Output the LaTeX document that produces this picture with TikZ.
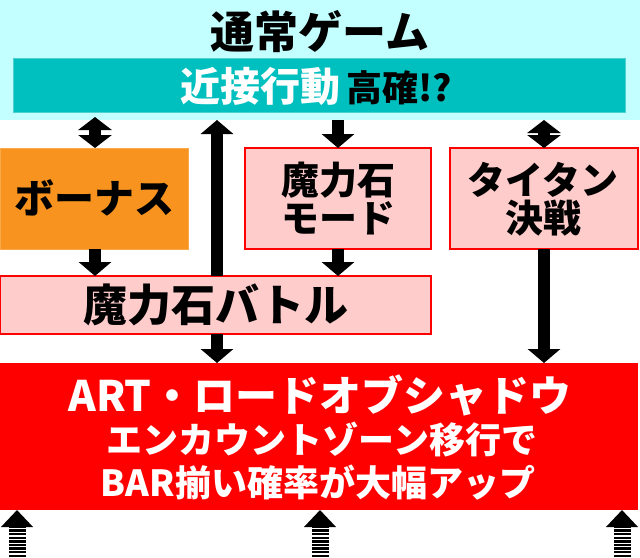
\documentclass[tikz,border=0pt]{standalone}
\usepackage{fontspec}
\setmainfont{Noto Sans CJK JP}
\usetikzlibrary{arrows.meta}
\definecolor{lcyan}{HTML}{C4FFFF}
\definecolor{teal2}{HTML}{00BFBF}
\definecolor{orng}{HTML}{F7931E}
\definecolor{pnk}{HTML}{FFCCCC}
\definecolor{rd}{HTML}{FF0000}
\begin{document}
\begin{tikzpicture}[x=1pt,y=-1pt,
  box/.style={rectangle, anchor=north west, inner sep=0pt, outer sep=0pt},
  pinkbox/.style={box, fill=pnk, draw=rd, line width=1.5pt},
  lbl/.style={inner sep=0pt, align=center, font=\bfseries},
  blk/.style={line width=12pt, draw=black},
  tip/.style={-{Triangle[width=32pt,length=14pt]}},
  dtip/.style={{Triangle[width=33pt,length=13pt]}-{Triangle[width=33pt,length=13pt]}},
  striped/.style={line width=17pt, dash pattern=on 2.4pt off 1.2pt, -{Triangle[width=31pt,length=17pt]}}
]
\useasboundingbox (0,0) rectangle (640,557);
\fill[white] (0,0) rectangle (640,557);
% top region
\node[box, fill=lcyan, minimum width=640pt, minimum height=120pt] (top) at (0,0) {};
\node[box, fill=teal2, draw=teal2!70!white, line width=0.8pt, minimum width=612pt, minimum height=54pt] (bar) at (13,58) {};
\node[lbl, font=\bfseries\fontsize{44}{48}\selectfont] (toptxt) at (320,32) {通常ゲーム};
\node[lbl] (bartxt) at (316,86) {{\color{white}\fontsize{40}{44}\selectfont 近接行動}\hspace{6pt}{\fontsize{36}{40}\selectfont 高確!?}};
% middle boxes
\node[box, fill=orng, draw=orng!80!white, line width=0.8pt, minimum width=188pt, minimum height=101pt] (bonus) at (0,148) {};
\node[lbl, font=\bfseries\fontsize{40}{44}\selectfont] (bonustxt) at (94,198) {ボーナス};
\node[pinkbox, minimum width=186pt, minimum height=101pt] (mode) at (245,148) {};
\node[lbl, font=\bfseries\fontsize{38}{38}\selectfont] (modetxt) at (338,199) {魔力石\\モード};
\node[pinkbox, minimum width=188pt, minimum height=101pt] (titan) at (450,148) {};
\node[lbl, font=\bfseries\fontsize{38}{38}\selectfont] (titantxt) at (543,199) {タイタン\\決戦};
\node[pinkbox, minimum width=431pt, minimum height=58pt] (battle) at (0,276) {};
\node[lbl, font=\bfseries\fontsize{44}{48}\selectfont] (battletxt) at (216,305) {魔力石バトル};
% ART box
\node[box, fill=rd, minimum width=638pt, minimum height=147pt] (art) at (0,363) {};
\node[lbl, text=white, font=\bfseries\fontsize{42}{46}\selectfont] (arttxt1) at (320,395) {ART・ロードオブシャドウ};
\node[lbl, text=white, font=\bfseries\fontsize{36}{40}\selectfont] (arttxt2) at (322,440) {エンカウントゾーン移行で};
\node[lbl, text=white, font=\bfseries\fontsize{36}{40}\selectfont] (arttxt3) at (318,483) {BAR揃い確率が大幅アップ};
% connectors
\draw[blk, dtip] (95,117) coordinate (a1) -- (bonus.north -| a1);
\draw[blk, tip] (battle.north -| 217,0) -- (top.south -| 217,0);
\draw[blk, tip] (top.south -| mode.north) -- (mode.north);
\draw[blk, dtip] (top.south -| titan.north) -- (titan.north);
\draw[blk, tip] (bonus.south -| a1) -- (battle.north -| a1);
\draw[blk, tip] (mode.south) -- (battle.north -| mode.south);
\draw[blk, tip] (battle.south -| 217,0) -- (art.north -| 217,0);
\draw[blk, tip] (titan.south) -- (art.north -| titan.south);
% bottom striped arrows
\coordinate (b1) at (17,557);
\coordinate (b2) at (320,557);
\coordinate (b3) at (622,557);
\draw[striped] (b1) -- (art.south -| b1);
\draw[striped] (b2) -- (art.south -| b2);
\draw[striped] (b3) -- (art.south -| b3);
\end{tikzpicture}
\end{document}
